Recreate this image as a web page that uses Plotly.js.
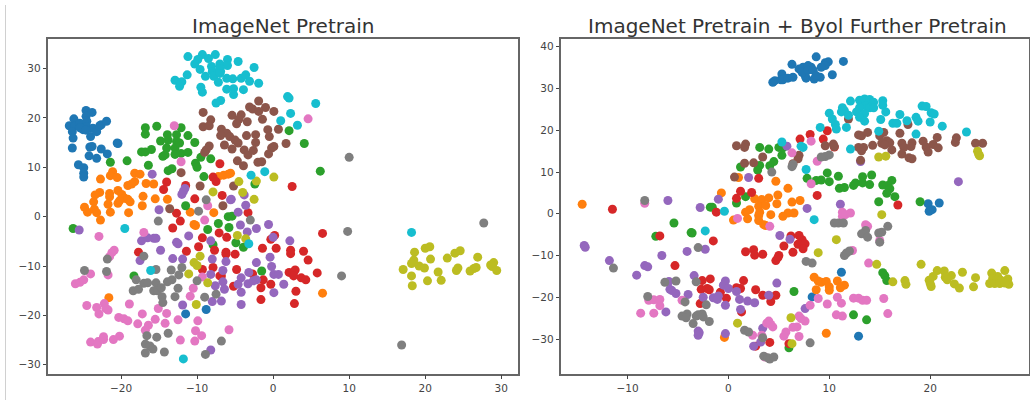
<!DOCTYPE html>
<html>
<head>
<meta charset="utf-8">
<script src="https://cdn.plot.ly/plotly-3.0.1.min.js"></script>
<style>html,body{margin:0;padding:0;background:#fff}#chart{width:1030px;height:400px}</style>
</head>
<body>
<div id="chart"></div>
<script>
const classColors = ['#1f77b4','#ff7f0e','#2ca02c','#d62728','#9467bd','#8c564b','#e377c2','#7f7f7f','#bcbd22','#17becf'];
const leftTitle = 'ImageNet Pretrain';
const rightTitle = 'ImageNet Pretrain + Byol Further Pretrain';

const leftC0 = [[-26.8,18.4],[-26.2,19.8],[-26.1,18.4],[-26.4,17.2],[-26.3,15.9],[-26.4,13.9],[-25.4,18.9],[-25,17.6],[-24.6,21.5],[-23.8,21.1],[-24.6,20.3],[-24.5,19.3],[-24.5,18.2],[-23.7,17.9],[-24,16.2],[-23.2,17.2],[-22.8,18.4],[-22.6,18.6],[-21.9,19.3],[-24.1,14.1],[-23.8,14.2],[-22.6,13.7],[-21.8,12.7],[-20.5,14.9],[-20.4,14.8],[-24.2,12.3],[-23.2,11.8],[-25.6,10.5],[-24.9,9.9],[-24.9,8.8],[-24.9,8],[-25.4,18],[-24.6,17.5],[-11.5,-19.7],[-8.8,-18.8]];
const leftC1 = [[-21.1,9.1],[-21.4,8.3],[-20.5,7.9],[-22.7,7.6],[-18.2,8.8],[-17.5,8.6],[-18.2,7.1],[-19.1,6.3],[-18.6,6.6],[-16.7,6.7],[-15.7,6.6],[-22.8,4.9],[-23.4,4.4],[-21.5,4.7],[-20.4,5.3],[-19.9,4.5],[-17.1,4.1],[-21.5,4],[-19.5,3.7],[-19.1,3.5],[-15.5,3.6],[-13.9,3.5],[-7.2,8.1],[-6.5,8.4],[-5.9,8.6],[-5.6,8.8],[-24.8,1.9],[-24.4,0.9],[-23.5,1.5],[-23.2,0.8],[-23.6,3],[-21.7,2.5],[-21.4,0.9],[-20.4,2.7],[-20.2,3.2],[-18.8,3],[-19,0.8],[-17.2,2.2],[-22.7,-0.7],[-10.9,0.9],[-10.4,-1.6],[-10.2,-1.8],[-7.8,0.8],[-21.6,-16.4],[6.5,-15.5]];
const leftC2 = [[-16.8,18],[-15.3,18.3],[-12.1,18],[-16.8,16.7],[-13.9,16.6],[-12.7,16.6],[-14.8,15.3],[-13.8,15.5],[-12.7,15.2],[-11.2,16.4],[-10.3,15],[-17.3,13.1],[-16.8,13.1],[-16,13.6],[-14,13.9],[-12.9,13.9],[-12.3,14.9],[-14.5,12.2],[-14.2,12.5],[-12.9,12.6],[-12.1,12.8],[-11.2,13],[-21.4,11],[-19.2,11.3],[-16.4,10.4],[-13.8,9.3],[-13.3,9.7],[-10.2,10.8],[-10,10],[-9.5,12],[-8.2,11.7],[-9.1,8.1],[-2.4,6.6],[2.1,17.4],[4.1,14.8],[6.2,9.2],[-11.5,2.2],[-7.2,-1.4],[-5.9,0],[-5.4,0.1],[-8.6,-2.6],[-5.8,-2.2],[-4.9,-5.3],[-3.9,-6.2],[-7.9,-5.7],[-1.5,-11],[-18.3,-12],[-26.3,-2.4]];
const leftC3 = [[-7,10.7],[-14,7],[-14.4,5.5],[-11.5,6.3],[-7.9,8],[-7.5,7.1],[2.5,6.1],[-6.7,4.3],[-10.3,3.6],[-12.7,0.7],[-12.2,-0.9],[-13.2,-2.3],[-3.3,0.8],[-9.3,-4.3],[-9.8,-6.1],[-7.1,-3.3],[-6.1,-4.2],[-17.7,-7.2],[-11.4,-7],[-7.7,-6.8],[-6.2,-7.2],[-6.2,-7.6],[-5,-7.6],[-1.4,-6.4],[0.4,-6.4],[2.3,-6.8],[2.3,-7.5],[4,-7],[4.6,-8.8],[6.5,-3.4],[0.2,-3.8],[-0.3,-4.6],[-9.3,-10.7],[-7.9,-10.3],[-4.8,-10.7],[-6.8,-12],[-2.7,-11.6],[-1.3,-12.8],[-1.6,-14.4],[-0.3,-13.7],[-5.2,-14.1],[2.1,-11.3],[2.6,-11.4],[2.9,-10.8],[2.7,-12],[3.7,-12.4],[4.3,-12.8],[5.8,-11.4],[3,-15.1],[-1.6,-16.8],[2.8,-17.6],[-7,-12]];
const leftC4 = [[-15.9,8.6],[-11.6,5.7],[-11.8,5.1],[-12,4.5],[-5.5,3.5],[-3.8,4.4],[-3.6,2.3],[-4.6,0.9],[-15,1.4],[-0.6,-1.6],[-2.2,-2.4],[-4.3,-1.7],[-3.4,-3.1],[-17.3,-4.9],[-16.5,-4.3],[-15.7,-4.4],[-15.4,-4.4],[-11.1,-3.9],[-12.7,-5.2],[-12.5,-5.5],[-8.2,-4.9],[-14.8,-6.8],[0,-4.2],[2.2,-4.9],[-17.5,-8.9],[-13.2,-8.5],[-11.9,-8.6],[-8,-8.6],[-6.2,-9.1],[-2.2,-9.3],[-0.4,-8.2],[-0.2,-10.1],[-8.2,-11.7],[-6.6,-10.9],[-3.2,-11.3],[-4.2,-12.4],[0.1,-11.7],[0.7,-11.7],[-6.6,-13.2],[-7.6,-14],[-6.4,-14.7],[-4.6,-13.7],[-3.3,-13.6],[-2.6,-13],[-2.2,-12.8],[-4.2,-15.3],[1.4,-13.7],[0.1,-15.4],[-11.9,-17.9],[-8,-17.2],[-6.8,-17.1],[-4.2,-17.8],[-8.2,-27],[-25.5,-2.7],[-5.6,3.4]];
const leftC5 = [[-1.9,23.4],[-3.1,22.2],[-2.7,21.8],[-1,22.1],[-1.9,21.3],[0.1,21.3],[-1.4,19.7],[-9.2,21.1],[-8.2,19.6],[-5.4,20.5],[-4.2,20.6],[-4.5,19.7],[-4.8,18.8],[-3.4,19.2],[-9.2,18.2],[-8.4,18.4],[-6.8,17.7],[-6.1,16.9],[-6.9,16.4],[-5.7,16.2],[-3.5,16.4],[-2.3,16.6],[-0.7,17.6],[-0.5,16.2],[0.7,17.7],[-5,15.5],[-4.6,14.9],[-2.3,15],[-6.4,14.5],[-5.4,13.7],[-8.4,14.3],[-8.8,13.5],[-9,13],[-3.8,13.5],[-3.3,12.5],[-2.6,13.4],[-0.2,13.9],[0.1,14.2],[-0.6,12.7],[-4.7,11.3],[-3.9,10.3],[-2,11],[-1.5,11.1],[-12.1,8.9],[-9.6,6.2],[-5.2,6.2],[1.7,14.8],[-13.6,1.6],[-6.6,2.2]];
const leftC6 = [[-13,18.4],[-12.1,11.1],[4.6,19.8],[-8.6,2.2],[-9,-0.7],[-17,-3.2],[-22.9,-4],[-20.9,-6.8],[-21.2,-7.3],[-21.5,-8.1],[-24,-11.6],[-26,-13.6],[-25.4,-13.3],[-24.9,-12.8],[-21.7,-11.8],[-9.3,-12.2],[-10.5,-14.5],[-10.9,-16.1],[-24.5,-18],[-23.2,-18.4],[-22.2,-17.6],[-21.7,-18.9],[-22,-18.6],[-22.9,-19.7],[-18.9,-17.7],[-15.1,-18.6],[-17.2,-19.7],[-14,-19.6],[-20.3,-20.4],[-19.6,-20.7],[-19.1,-21.1],[-17.8,-21.7],[-15.5,-20.8],[-14.2,-21.6],[-12.5,-20.9],[-9.9,-21.1],[-16.4,-22],[-16.8,-23],[-10.2,-23.1],[-9.4,-24.1],[-5.8,-22.9],[-12.2,-25],[-10.3,-25.2],[-24,-25.4],[-23.1,-25.8],[-23,-25.3],[-22.3,-24.9],[-22.3,-24.3],[-21,-24.9],[-20.2,-24.2]];
const leftC7 = [[-8.8,3.4],[-9.8,1.1],[-15.1,-0.9],[-3,-0.7],[-17,-8],[-21.8,-8.6],[-24.8,-10.9],[-21.9,-11.1],[-15.4,-10.7],[-13.4,-10.8],[-12,-10.3],[-12.4,-11.8],[-18,-12.8],[-17,-13.5],[-16.5,-13.4],[-15.4,-13.4],[-13.9,-13.2],[-13.3,-12.8],[-12.5,-14.5],[-10,-13],[-18.4,-15],[-17.7,-14.7],[-15.7,-15],[-15.2,-15],[-14.7,-14.4],[-14.6,-16.2],[-14.5,-17.4],[-12.9,-16.2],[-9,-16.3],[-7.5,-15.7],[-16.6,-24.1],[-15.3,-24.4],[-13.8,-23.6],[-16.8,-25.8],[-16.2,-26.2],[-15.8,-26.8],[-16.8,-27.6],[-14.3,-27.4],[-6.8,-25.2],[-8.9,-27.9],[10,12],[9.8,-3],[9,-12],[27.7,-1.3],[16.9,-26]];
const leftC8 = [[-4.5,7.1],[-2.2,7.2],[0.1,8],[-7.9,5],[-4,4.9],[-2.5,3.5],[-4.7,-3.8],[-3.6,-4.5],[-9.6,-8],[-10.4,-9.3],[-10,-9.9],[-11.1,-11.6],[-8.6,-13.4],[-10.1,-17.8],[18.6,-7.2],[20,-6.4],[20.6,-6.1],[18.5,-8.8],[18.2,-9.5],[20.7,-8.6],[22.9,-8.4],[23.9,-7.4],[24.6,-6.9],[26.9,-8.2],[19.2,-10],[19.9,-10.4],[17.1,-10.7],[18.2,-12],[21.7,-11.2],[24.3,-10.4],[24.1,-10.9],[25.9,-11],[26.4,-10.5],[26.7,-10.3],[29,-9.3],[28.6,-9.8],[28.8,-10.1],[29.4,-10.9],[18.3,-14],[20.3,-13],[22.1,-12.9]];
const leftC9 = [[-11.2,32.4],[-9.3,32.8],[-7.6,32.8],[-8.5,32],[-9.9,31.8],[-10.3,30.9],[-9.6,29.8],[-8.1,30.4],[-7,30.9],[-6,31.8],[-4.6,31.4],[-6,30.6],[-2.5,30.2],[-8,29.4],[-6.9,29.4],[-8.9,28.4],[-7.8,28.4],[-7.2,27.2],[-6.1,28],[-5.3,27.9],[-4.2,28],[-3.6,28.7],[-3.1,27.4],[-1.9,27],[-11.3,28.7],[-12.9,27.6],[-12,27.3],[-12.3,26.4],[-9.5,26.2],[-9.3,25.2],[-6.1,25.8],[-5.2,25.9],[-3.9,25.7],[-5.2,24.7],[-6.9,23.5],[-7.5,23],[-7,30],[-7,29],[1.9,24.3],[2.1,24],[5.6,22.9],[2.3,20.9],[1,19.4],[3.2,18.5],[-2.9,8.4],[-1.1,9.1],[-3.2,-5.5],[-16.1,-10.9],[-19.5,-2.4],[-11.8,-28.8],[18.2,-3.2]];

const rightC0 = [[4.4,31.5],[4.6,31.9],[5.3,33.5],[5.2,32.1],[5.4,32.1],[5.9,32.5],[6.4,32.7],[6.3,35.8],[7,34.7],[7.4,35.1],[7.9,35.5],[8.2,35.1],[7.7,32.5],[7.6,33.1],[7.3,33.9],[7.9,34.4],[8.4,34.4],[8.7,37.6],[9.6,36.2],[9.9,36.4],[9.6,35.5],[9.2,35.1],[9.1,32.7],[8.5,32.3],[10.3,33.3],[11.4,36.5],[8.7,33.1],[19.8,2.4],[20.9,2.6],[20.2,1],[19.9,0.6],[11.2,-14],[8.3,-19.9],[12.9,-29.3]];
const rightC1 = [[-0.7,5],[4.7,7.8],[5.9,6.1],[2.6,3.6],[3.3,3.4],[4,3.8],[4.9,4.5],[4.8,2.4],[3,1.8],[3.7,2],[6.3,2.8],[7.1,3.2],[2.1,1],[1.7,0.4],[3.1,0.4],[4.2,-0.2],[3,-0.4],[1.9,-1.2],[0.5,-1.5],[5.9,0.2],[6.5,0.2],[5.4,-0.6],[3,-1.6],[3.5,-2.6],[1,8.7],[-14.5,2.3],[-0.4,-29.6],[9.7,-28.6],[8.5,-15.2],[8.9,-16.1],[9.2,-16.4],[9.7,-16.2],[10,-17.5],[10,-18.3],[8.7,-18.2],[10.8,-16.1],[11.5,-17.1],[11.1,-17.7],[3.7,-2.8]];
const rightC2 = [[3.1,15.9],[4,15.5],[5,15.9],[5.3,14],[5.4,15.8],[4.5,12.5],[4.1,11.5],[3.1,11.6],[2.9,10.5],[1.2,11.2],[1.7,4.1],[0.8,2.6],[-1.8,1.6],[-1.6,1.6],[-3.6,-4.6],[7.8,8.5],[8.7,8],[9.2,8.1],[9.8,9.8],[10,7.7],[10.9,9],[11,6.1],[11.5,6.3],[12.4,6.8],[12.6,7.4],[13.3,8.9],[13.3,7.4],[14,7],[14.2,9.3],[15.3,6.9],[16.2,8],[15.8,6.8],[16,6],[15.7,4.9],[16.5,4.1],[14.9,2.9],[-5.4,-2.2],[-3.7,-4.5],[-7.2,-5.4],[19,2.9],[6.5,-18.6],[12.4,-24.2],[13.7,-25.4],[15.3,-14.1],[15.5,-14.8],[15.7,-16],[6,-32.1]];
const rightC3 = [[7.1,17.9],[8.1,19],[9.4,17.9],[9.8,19.9],[10.5,16],[1.2,5.4],[2.3,5.1],[0.8,3.7],[3,8.5],[-1.2,0.4],[-1.5,-6.5],[8.8,4.4],[16.8,2.1],[6.2,-5.3],[7,-5.2],[7.3,-6.2],[6.9,-7.3],[7.6,-7.2],[7.4,-8.4],[5.5,-7.7],[6.4,-9.2],[1.7,-9.1],[2.5,-8.6],[2.6,-9.9],[3.4,-9.7],[5,-10],[4.7,-11.2],[4.9,-10.5],[-11.5,1.1],[-6.8,-5.3],[-5.3,-12.4],[-2.6,-16],[-1.8,-15.6],[-2.7,-18.1],[-2.1,-17.9],[-1.9,-18.2],[-0.8,-18.8],[-0.2,-20.2],[-2.8,-21.5],[0.8,-17.7],[1.2,-17.9],[1.5,-16],[2.7,-18.2],[3.4,-19.5],[4.2,-21],[4.7,-19.5],[1.3,-23.5],[4.1,-30.8],[2.7,-31.7],[6,-31.1]];
const rightC4 = [[5.8,16.2],[2,8.7],[-1,3.5],[-2.8,1.5],[11.1,2.3],[7.8,1.3],[5.1,-5.2],[6.1,-6.1],[-2.3,-8.5],[4.8,-16.6],[13.1,12.5],[22.8,7.7],[-6,3.2],[-14.3,-7.6],[-14.2,-8],[-11.8,-11.2],[-9.1,-14.7],[-8.3,-12.4],[-8,-12.7],[-6.6,-10],[-4.1,-9],[-3.4,-14.8],[-5.9,-16.2],[-5.8,-18.1],[-5.6,-18.4],[-5.2,-19.1],[-4,-19.3],[-2.5,-20],[-6.2,-23.5],[-3,-28.1],[-2.9,-28.5],[-3,-29.1],[-0.3,-28.7],[-0.3,-16.1],[-0.5,-17.1],[0,-17.9],[0.8,-18.6],[-1,-19.7],[-1.5,-20.1],[-1.1,-20.5],[-0.3,-21.9],[1.1,-20.5],[1.9,-20.9],[2.6,-21.3],[1.2,-22.9],[4,-19.5],[3.4,-27.4],[2.5,-31.7],[3.2,-30.7],[7.6,-22.7]];
const rightC5 = [[11.9,22.7],[12.9,18.9],[13.2,18.7],[13.8,19.5],[17.8,21.4],[17,19.3],[15,18.7],[15.4,19.5],[15.7,17.5],[16,17],[15.2,16.9],[15.5,16.5],[14.3,16.4],[12.9,15.9],[13.4,15.9],[13.2,15.1],[16.2,15.3],[17.2,16.9],[18.2,17],[17.4,15.9],[18.1,16.1],[17.2,14.3],[17.9,13.4],[18.2,13.2],[19.3,17.4],[19.6,16],[19.8,14.8],[20.3,16.6],[20.7,18.3],[20.8,15.8],[22.6,18.2],[22.5,17.1],[24.5,16.9],[25.2,16.9],[13.1,12.8],[9.6,16.3],[10.4,16.7],[10.5,16.1],[7,14],[6.9,13.2],[6.4,12],[0.8,16.3],[1.7,16.7],[1.6,15.9],[3.4,13.6],[1.6,12.1],[2.5,12.2],[0.6,8.8]];
const rightC6 = [[6.3,14.6],[8.2,17.4],[8.8,12.6],[8.2,7.2],[0.9,-1.1],[4.1,-3],[11.3,0.4],[11.3,-0.6],[11.6,-0.2],[12.1,0.2],[13.6,-2.6],[13.8,-3],[12.3,-8.8],[13.9,-11.8],[8.9,-20.3],[9.8,-21.6],[10.8,-20],[11.2,-21.4],[12.4,-20.2],[12.9,-20.2],[13.3,-20.7],[13.7,-20.7],[15.4,-20.3],[8.1,-21.9],[10.7,-24.2],[11.3,-24.5],[7,-24.5],[7.2,-25.1],[7.6,-25.7],[6.8,-27.1],[6.4,-27.2],[5.7,-28.3],[5.5,-29.3],[7,-29.4],[15.8,-23.9],[-8.3,2.5],[-8.7,-23.8],[-7.4,-23.8],[-7.9,-20.7],[-7.4,-20.6],[-6.8,-20.5],[-6.8,-22],[-4.6,-20.7],[3.8,-26.2],[4,-25.7],[4.2,-26.5],[4.4,-27.1],[2.4,-29.1],[3.6,-34.3],[3.3,-29.1],[15,-6.4]];
const rightC7 = [[9.6,13.7],[9.2,13.6],[10,14.1],[6.4,11.8],[6.3,11.3],[4.3,10],[-3,-8.1],[10.5,-2.2],[10.9,-2.2],[11.4,-2.2],[13.6,-4],[13.2,-4.8],[13.8,-5.6],[14.9,-4.6],[15.2,-4.4],[15.8,-3],[15,-6.8],[11.5,-10],[11.7,-9.4],[12,-8.9],[7.7,-11.4],[8.3,-11.8],[8.1,-30.9],[-8.3,3.2],[-11.4,-13],[-6.3,-16.4],[-5.2,-16.1],[-3.2,-16.3],[-8,-19.8],[-4.3,-21.1],[-2.2,-21.8],[-4.6,-24.5],[-4.1,-24],[-4.2,-24.9],[-3.2,-24.5],[-3,-24.2],[-3.5,-26.3],[-2.6,-24],[-2.5,-24.7],[-1.9,-25.8],[1.6,-27.9],[2,-28.3],[3.4,-29.7],[3.5,-34.1],[3.9,-34.5],[4.1,-34.8],[4.5,-34.3]];
const rightC8 = [[14.9,13.6],[15.6,13.8],[24.7,15],[24.8,14.3],[24.9,13.9],[15.2,-0.2],[10.7,-6.2],[8.9,-9.3],[6.2,-24.9],[6.3,-31.1],[14.7,-12.1],[19.1,-12.1],[20.7,-13.6],[21.4,-13.7],[22.1,-14.8],[23.2,-14],[27.4,-13.6],[26.1,-14.2],[26.7,-15],[26.2,-15.5],[26.6,-15.9],[27,-15.9],[25.9,-16.7],[26.4,-16.7],[26.9,-16.7],[27.7,-15.6],[27.8,-16.9],[27.4,-16.6],[16.3,-16.3],[17.5,-16],[17.6,-16.9],[20.3,-15],[19.9,-15.9],[20.1,-17.4],[21.5,-15.2],[21.7,-15.8],[22.4,-16.8],[22.9,-17.8],[24.3,-17.5],[24.5,-15.3],[20,-16.7],[0.9,-26.2]];
const rightC9 = [[12.1,27],[11.3,25.4],[11.2,24.4],[11.5,24.7],[11.9,23.6],[13,27.2],[13.5,27.5],[14,27.4],[14.4,26.7],[15.3,27.1],[15.3,26],[13.6,25.9],[13,25.4],[14,25.4],[14.4,25.4],[12.7,24.4],[13.5,24],[13,23.1],[15.6,24.4],[13.5,22.2],[15.1,22.6],[10,24.1],[10.3,22.7],[10.6,21.4],[10.7,20.3],[11.7,20.7],[9.1,20.7],[16.3,21.7],[16.7,21.7],[17,23.8],[17.7,22.3],[18.6,23.1],[18.8,22.2],[19.2,25.8],[19.6,25.7],[20.1,24.2],[20.4,23.9],[20,22],[21.2,21],[23.6,19.6],[14.9,19.8],[18.6,19.1],[12.1,15.5],[7.4,15.9],[7.2,16.2],[5.3,17.2],[7.7,10.6],[-0.4,0.6],[-2.3,-4.1],[8.5,-1.4]];

const leftClasses = [leftC0,leftC1,leftC2,leftC3,leftC4,leftC5,leftC6,leftC7,leftC8,leftC9];
const rightClasses = [rightC0,rightC1,rightC2,rightC3,rightC4,rightC5,rightC6,rightC7,rightC8,rightC9];

function panelTraces(classes, xa, ya){
  return classes.map((pts,i)=>({
    type:'scatter', mode:'markers', xaxis:xa, yaxis:ya, showlegend:false, hoverinfo:'skip',
    x:pts.map(p=>p[0]), y:pts.map(p=>p[1]),
    marker:{color:classColors[i], size:9, opacity:1, line:{width:0}}
  }));
}
const W=1030, H=400;
function axisStyle(extra){
  return Object.assign({showgrid:false, zeroline:false, showline:true, mirror:true, linecolor:'#666', linewidth:1.5,
    ticks:'outside', ticklen:3.5, tickwidth:1, tickcolor:'#444', dtick:10, tick0:0,
    tickfont:{family:'DejaVu Sans', size:10.5, color:'#444'}}, extra);
}
const layout = {
  width:W, height:H, margin:{l:0,r:0,t:0,b:0}, paper_bgcolor:'#fff', plot_bgcolor:'#fff', showlegend:false,
  xaxis: axisStyle({domain:[48/W,518/W], range:[-29.6,32.2], anchor:'y'}),
  yaxis: axisStyle({domain:[1-373.7/H,1-39.3/H], range:[-31.8,35.9], anchor:'x'}),
  xaxis2: axisStyle({domain:[561/W,1029/W], range:[-16.6,29.8], anchor:'y2'}),
  yaxis2: axisStyle({domain:[1-373.7/H,1-39.3/H], range:[-38.3,41.8], anchor:'x2'}),
  annotations:[
    {xref:'paper',yref:'paper',x:283/W,y:1-26/H,yanchor:'middle',xanchor:'center',showarrow:false,text:leftTitle,font:{family:'DejaVu Sans',size:20,color:'#333'}},
    {xref:'paper',yref:'paper',x:797/W,y:1-26/H,yanchor:'middle',xanchor:'center',showarrow:false,text:rightTitle,font:{family:'DejaVu Sans',size:20,color:'#333'}}
  ],
  shapes:[{type:'line',xref:'paper',yref:'paper',x0:5.5/W,x1:5.5/W,y0:0,y1:1-5/H,line:{color:'#d0d0d0',width:1}}]
};
Plotly.newPlot('chart',[...panelTraces(leftClasses,'x','y'),...panelTraces(rightClasses,'x2','y2')],layout,{displayModeBar:false,responsive:false});
</script>
</body>
</html>
